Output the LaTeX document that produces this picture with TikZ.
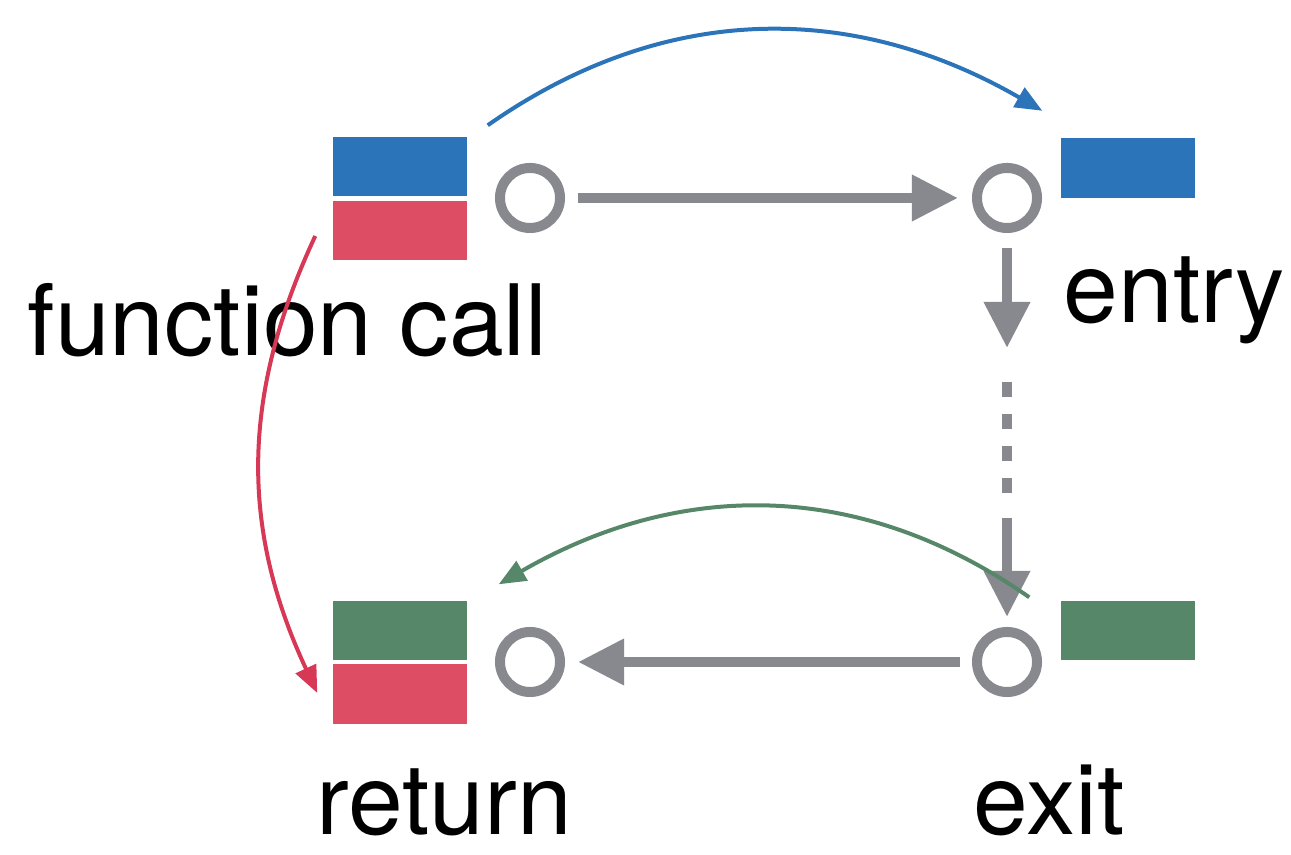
\documentclass[tikz,border=0pt]{standalone}
\usepackage{fontspec}
\setmainfont{TeX Gyre Heros}
\usepackage{tikz}
\usetikzlibrary{arrows.meta}

\definecolor{callblue}{HTML}{2C74BA}
\definecolor{callred}{HTML}{DD4D63}
\definecolor{arcred}{HTML}{D63856}
\definecolor{retgreen}{HTML}{568769}
\definecolor{flowgray}{HTML}{87898E}

\begin{document}
\begin{tikzpicture}[x=0.01cm, y=0.01cm,
      slot/.style={rectangle, minimum width=1.34cm, minimum height=0.59cm, inner sep=0pt, draw=none},
      site/.style={circle, draw=flowgray, line width=0.1cm, minimum size=0.6cm, inner sep=0pt},
      flow/.style={draw=flowgray, line width=0.1cm, -{Triangle[length=0.46cm, width=0.44cm]}},
      jump/.style={line width=0.04cm, -{Triangle[length=0.27cm, width=0.22cm]}},
      word/.style={anchor=base west, inner sep=0pt, font=\fontsize{28pt}{30pt}\selectfont}]
    \useasboundingbox (0,0) rectangle (1291,855);
    % stack slots
    \node (callA) [slot, fill=callblue] at (400,688.5) {};
    \node (callB) [slot, fill=callred] at (400,624.5) {};
    \node (entryBox) [slot, fill=callblue] at (1128,687) {};
    \node (retA) [slot, fill=retgreen] at (400,224.5) {};
    \node (retB) [slot, fill=callred] at (400,161) {};
    \node (exitBox) [slot, fill=retgreen] at (1128,224.5) {};
    % program points
    \node (callSite) [site] at (530,657) {};
    \node (entrySite) [site] at (1007,657) {};
    \node (retSite) [site] at (530,193) {};
    \node (exitSite) [site] at (1007,193) {};
    \coordinate (gapTop) at (1007,507);
    \coordinate (dashTop) at (1007,473);
    \coordinate (dashLow) at (1007,361);
    \coordinate (gapEnd) at (1007,337);
    % labels
    \node (callLabel) [word] at (27,499) {function call};
    \node (entryLabel) [word] at (1063,532) {entry};
    \node (retLabel) [word] at (316,20) {return};
    \node (exitLabel) [word] at (973,20) {exit};
    % control flow
    \draw[flow, shorten <=0.13cm, shorten >=0.14cm] (callSite) -- (entrySite);
    \draw[flow, shorten <=0.15cm] (entrySite) -- (gapTop);
    \draw[draw=flowgray, line width=0.1cm, dash pattern=on 0.15cm off 0.17cm] (dashTop) -- (dashLow);
    \draw[flow, shorten >=0.10cm] (gapEnd) -- (exitSite);
    \draw[flow, shorten <=0.12cm, shorten >=0.13cm] (exitSite) -- (retSite);
    % stack edges
    \draw[jump, callblue] ([shift={(20,11)}]callA.north east) to[out=35, in=150] ([shift={(-18,27)}]entryBox.north west);
    \draw[jump, arcred] ([shift={(-17,-5.5)}]callB.west) to[out=-115, in=115] ([shift={(-15,1)}]retB.west);
    \draw[jump, retgreen] ([shift={(-31,3)}]exitBox.north west) to[out=145, in=30] ([shift={(31,16)}]retA.north east);
\end{tikzpicture}
\end{document}
